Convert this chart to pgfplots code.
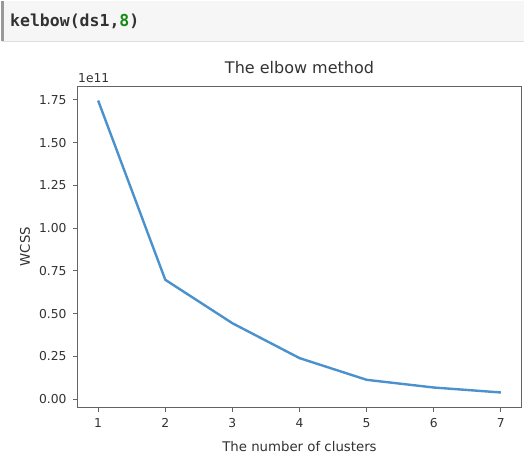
\documentclass[border=0pt]{standalone}
\usepackage{pgfplots}
\pgfplotsset{compat=1.18}
\usepackage{fontspec}
\setmainfont{DejaVu Sans}
\setmonofont{DejaVu Sans Mono}
\definecolor{lineblue}{RGB}{75,145,205}
\definecolor{cellbg}{RGB}{246,246,246}
\definecolor{cellborder}{RGB}{222,222,222}
\definecolor{kwgreen}{RGB}{20,140,20}
\definecolor{spine}{RGB}{100,100,100}
\definecolor{txt}{RGB}{50,50,50}
\begin{document}
\begin{tikzpicture}
\path[use as bounding box] (0pt,0pt) rectangle (524pt,-455pt);
\fill[cellbg] (2pt,-1pt) rectangle (524pt,-41pt);
\draw[cellborder] (2pt,-41.5pt) -- (524pt,-41.5pt);
\fill[black!40] (1pt,-1pt) rectangle (3.5pt,-41pt);
\node[anchor=base west, inner sep=0pt, font=\ttfamily\bfseries\fontsize{16.5}{19}\selectfont, text=txt] at (10pt,-27pt) {kelbow(ds1,\textcolor{kwgreen}{8})};
\begin{axis}[
  at={(78pt,-407pt)}, anchor=south west,
  scale only axis, width=443pt, height=321pt,
  xmin=0.7, xmax=7.3, ymin=-0.046, ymax=1.831,
  xtick={1,2,3,4,5,6,7},
  ytick={0,0.25,0.5,0.75,1,1.25,1.5,1.75},
  /pgf/number format/assume math mode=true,
  yticklabel style={/pgf/number format/fixed, /pgf/number format/fixed zerofill, /pgf/number format/precision=2, xshift=-3pt},
  scaled y ticks=false,
  tick align=outside, tick pos=left,
  major tick length=5pt,
  axis line style={spine, line width=1pt},
  tick style={spine, line width=1pt},
  ticklabel style={font=\fontsize{12.3}{14}\selectfont, text=txt},
  xticklabel style={yshift=-3pt},
  title={The elbow method},
  title style={font=\fontsize{16}{18}\selectfont, text=txt, at={(axis description cs:0.5,1)}, anchor=base, yshift=7pt},
  xlabel={The number of clusters},
  xlabel style={font=\fontsize{13.3}{15}\selectfont, text=txt, at={(axis description cs:0.5,0)}, anchor=center, yshift=-40pt},
  ylabel={WCSS},
  ylabel style={font=\fontsize{13.3}{15}\selectfont, text=txt, at={(axis description cs:0,0.5)}, anchor=center, yshift=53pt},
  clip=false,
]
\addplot[lineblue, line width=2.4pt, line join=round] coordinates {
  (1,1.746) (2,0.698) (3,0.444) (4,0.240) (5,0.113) (6,0.068) (7,0.039)
};
\node[anchor=base west, inner sep=0pt, font=\fontsize{12.3}{14}\selectfont, text=txt] at (axis description cs:0,1) [yshift=4pt] {1e11};
\end{axis}
\end{tikzpicture}
\end{document}
